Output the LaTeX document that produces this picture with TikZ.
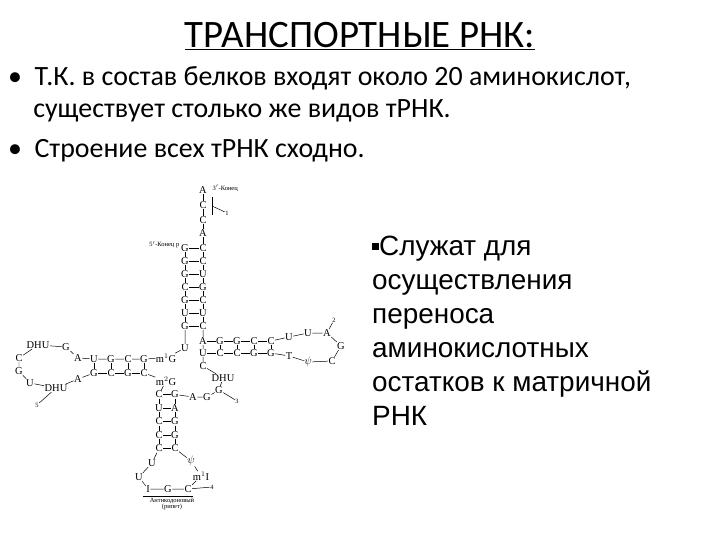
\documentclass[tikz,border=0pt]{standalone}
\usepackage{fontspec}
\setmainfont{Liberation Serif}
\newfontfamily\calfnt{Carlito}
\newfontfamily\arifnt{Liberation Sans}
\begin{document}
\begin{tikzpicture}[x=1bp,y=-1bp,
  nb/.style={inner sep=0.4pt,font=\fontsize{10.5}{10.5}\selectfont},
  sm/.style={inner sep=0.5pt,font=\fontsize{6.5}{6.5}\selectfont},
  ln/.style={line width=0.5pt}]
\fill[white] (0,0) rectangle (720,540);
\useasboundingbox (0,0) rectangle (720,540);
\node[font=\calfnt\fontsize{39}{40}\selectfont,inner sep=0pt] (title) at (360,36) {\underline{ТРАНСПОРТНЫЕ РНК:}};
\node[font=\calfnt\fontsize{28}{32}\selectfont,anchor=north west,inner sep=0pt,align=left] (b1) at (8,66)
 {•\hspace{0.45em}Т.К. в состав белков входят около 20 аминокислот,\\
  \hspace{0.9em}существует столько же видов тРНК.\\[9pt]
  •\hspace{0.45em}Строение всех тРНК сходно.};
\node[font=\arifnt\fontsize{28}{34}\selectfont,anchor=north west,inner sep=0pt,align=left] (rt) at (372,236)
 {\rule[6pt]{7pt}{7pt}Служат для\\осуществления\\переноса\\аминокислотных\\остатков к матричной\\РНК};
% acceptor stem
\foreach \t [count=\i] in {G,G,G,C,G,U,G} {\pgfmathsetmacro\yy{235+13*\i}\node[nb] (L\i) at (185,\yy) {\t};}
\foreach \t [count=\i] in {C,C,U,G,C,U,C} {\pgfmathsetmacro\yy{235+13*\i}\node[nb] (R\i) at (203,\yy) {\t};}
\foreach \i in {1,...,7} \draw[ln] (L\i)--(R\i);
\foreach \i [evaluate=\i as \j using int(\i+1)] in {1,...,6} {\draw[ln] (L\i)--(L\j); \draw[ln] (R\i)--(R\j);}
\node[nb] (a1) at (203,190) {A};
\node[nb] (a2) at (203,205) {C};
\node[nb] (a3) at (203,220) {C};
\node[nb] (a4) at (203,233) {A};
\draw[ln] (a1)--(a2)--(a3)--(a4)--(R1);
\node[sm,anchor=west] (t3) at (212,188) {3$'$-Конец};
\node[sm,anchor=east] (t5) at (180,245) {5$'$-Конец p};
\draw[ln] (212,197)--(212,215);
\coordinate (br) at (212,206);
\node[sm] (one) at (227,213) {1};
\draw[ln] (br)--(one);
% junction
\node[nb] (u8) at (185,348) {U};
\node[nb] (m1g) at (166,358) {m$^1$G};
\draw[ln] (L7)--(u8)--(m1g);
% D arm
\foreach \t/\x [count=\i] in {G/144,C/128,G/111,U/94} \node[nb] (DT\i) at (\x,359) {\t};
\foreach \t/\x [count=\i] in {C/144,G/128,C/111,G/94} \node[nb] (DB\i) at (\x,373) {\t};
\draw[ln] (m1g)--(DT1)--(DT2)--(DT3)--(DT4);
\draw[ln] (DB1)--(DB2)--(DB3)--(DB4);
\foreach \i in {1,...,4} \draw[ln] (DT\i)--(DB\i);
\node[nb] (dA1) at (78,358) {A};
\node[nb] (dG) at (66,347) {G};
\node[nb] (dh1) at (38,345) {DHU};
\node[nb] (dC) at (19,358) {C};
\node[nb] (dG2) at (19,371) {G};
\node[nb] (dU) at (30,383) {U};
\node[nb] (dh2) at (56,388) {DHU};
\node[nb] (dA2) at (78,379) {A};
\draw[ln] (DT4)--(dA1)--(dG)--(dh1)--(dC)--(dG2)--(dU)--(dh2)--(dA2)--(DB4);
\node[sm] (five) at (37,405) {5};
\draw[ln] (dh2)--(five);
% anticodon stem
\node[nb] (m2g) at (166,381) {m$^2$G};
\draw[ln] (DB1)--(m2g);
\foreach \t [count=\i] in {C,U,C,C,C} {\pgfmathsetmacro\yy{381+13.5*\i}\node[nb] (AL\i) at (159,\yy) {\t};}
\foreach \t [count=\i] in {G,A,G,G,C} {\pgfmathsetmacro\yy{381+13.5*\i}\node[nb] (AR\i) at (175,\yy) {\t};}
\foreach \i in {1,...,5} \draw[ln] (AL\i)--(AR\i);
\foreach \i [evaluate=\i as \j using int(\i+1)] in {1,...,4} {\draw[ln] (AL\i)--(AL\j); \draw[ln] (AR\i)--(AR\j);}
\draw[ln] (m2g)--(AL1);
\node[nb] (lu1) at (152,463) {U};
\node[nb] (lu2) at (139,477) {U};
\node[nb] (li) at (148,489) {I};
\node[nb] (lg) at (168,489) {G};
\node[nb] (lc) at (188,489) {C};
\node[nb] (lmi) at (201,476) {m$^1$I};
\node[nb] (lpsi) at (191,461) {$\psi$};
\draw[ln] (AL5)--(lu1)--(lu2)--(li)--(lg)--(lc)--(lmi)--(lpsi)--(AR5);
\node[sm] (four) at (212,487) {4};
\draw[ln] (lc)--(four);
\draw[ln] (143,496)--(193,496);
\node[sm,align=center] (ant) at (172,504) {Антикодоновый\\(рипет)};
% variable loop
\node[nb] (vA) at (193,397) {A};
\node[nb] (vG) at (207,397) {G};
\node[nb] (vG2) at (219,390) {G};
\node[sm] (three) at (237,401) {3};
\draw[ln] (AR1)--(vA)--(vG)--(vG2)--(three);
% right side
\node[nb] (tA) at (203,341) {A};
\node[nb] (tU) at (203,353) {U};
\node[nb] (tC) at (203,366) {C};
\node[nb] (dhu3) at (223,378) {DHU};
\draw[ln] (R7)--(tA)--(tU)--(tC)--(dhu3)--(vG2);
\foreach \t/\x [count=\i] in {G/220,G/237,C/254,C/271} \node[nb] (TT\i) at (\x,341) {\t};
\foreach \t/\x [count=\i] in {C/220,C/237,G/254,G/271} \node[nb] (TB\i) at (\x,353) {\t};
\draw[ln] (tA)--(TT1)--(TT2)--(TT3)--(TT4);
\draw[ln] (tU)--(TB1)--(TB2)--(TB3)--(TB4);
\foreach \i in {1,...,4} \draw[ln] (TT\i)--(TB\i);
\node[nb] (lU1) at (289,337) {U};
\node[nb] (lU2) at (308,333) {U};
\node[nb] (lA) at (327,333) {A};
\node[nb] (lG) at (341,346) {G};
\node[nb] (lC) at (332,361) {C};
\node[nb] (lps) at (308,362) {$\psi$};
\node[nb] (lT) at (289,356) {T};
\draw[ln] (TT4)--(lU1)--(lU2)--(lA)--(lG)--(lC)--(lps)--(lT)--(TB4);
\node[sm] (two) at (334,320) {2};
\draw[ln] (lA)--(two);
\end{tikzpicture}
\end{document}
